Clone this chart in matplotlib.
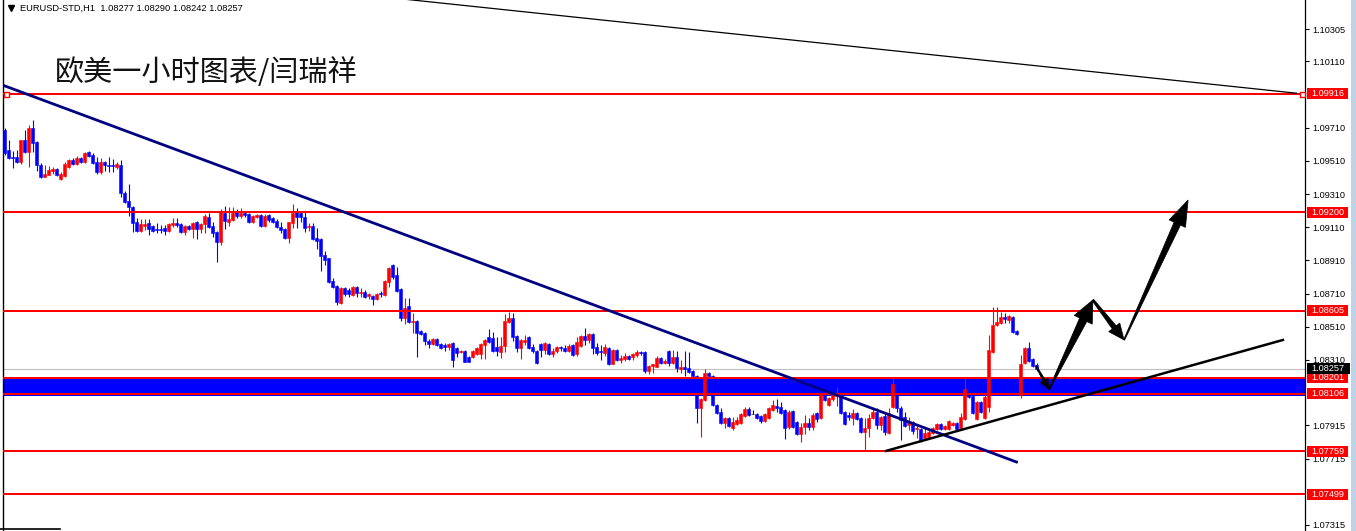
import numpy as np
import matplotlib
matplotlib.use("Agg")
import matplotlib.pyplot as plt
from matplotlib.patches import Polygon, Rectangle
from matplotlib.lines import Line2D
from matplotlib.transforms import IdentityTransform

plt.rcParams['font.family'] = ['Liberation Sans', 'DejaVu Sans']

# EURUSD H1 candles, oldest first
opens = [
    1.09696, 1.09576, 1.09533, 1.09533, 1.09503, 1.09636, 1.09563, 1.09708, 1.09624, 1.09485,
    1.09413, 1.09425, 1.09449, 1.09461, 1.09401, 1.09419, 1.09473, 1.09515, 1.09491, 1.09527,
    1.09503, 1.09563, 1.09545, 1.09503, 1.09443, 1.09503, 1.09485, 1.09485, 1.09473, 1.09485,
    1.09316, 1.09268, 1.09232, 1.09141, 1.09087, 1.09117, 1.09135, 1.09117, 1.09099, 1.09099,
    1.09105, 1.09087, 1.09123, 1.09135, 1.09129, 1.09081, 1.09117, 1.09099, 1.09141, 1.09099,
    1.09129, 1.09172, 1.09117, 1.09081, 1.09021, 1.09196, 1.09141, 1.09153, 1.09202, 1.09178,
    1.09196, 1.09190, 1.09141, 1.09172, 1.09184, 1.09117, 1.09184, 1.09166, 1.09147, 1.09111,
    1.09099, 1.09045, 1.09135, 1.09202, 1.09196, 1.09172, 1.09111, 1.09117, 1.09045, 1.09039,
    1.08942, 1.08924, 1.08786, 1.08755, 1.08653, 1.08743, 1.08731, 1.08701, 1.08749, 1.08713,
    1.08719, 1.08695, 1.08695, 1.08677, 1.08713, 1.08701, 1.08780, 1.08882, 1.08822, 1.08737,
    1.08562, 1.08635, 1.08538, 1.08544, 1.08484, 1.08472, 1.08424, 1.08406, 1.08436, 1.08406,
    1.08400, 1.08388, 1.08412, 1.08382, 1.08357, 1.08363, 1.08327, 1.08327, 1.08345, 1.08345,
    1.08400, 1.08448, 1.08442, 1.08388, 1.08357, 1.08394, 1.08538, 1.08562, 1.08454, 1.08382,
    1.08418, 1.08448, 1.08388, 1.08363, 1.08406, 1.08370, 1.08406, 1.08345, 1.08363, 1.08388,
    1.08382, 1.08363, 1.08400, 1.08345, 1.08394, 1.08454, 1.08430, 1.08466, 1.08388, 1.08363,
    1.08351, 1.08382, 1.08285, 1.08370, 1.08309, 1.08315, 1.08333, 1.08327, 1.08339, 1.08357,
    1.08357, 1.08243, 1.08273, 1.08267, 1.08321, 1.08291, 1.08363, 1.08291, 1.08327, 1.08255,
    1.08267, 1.08261, 1.08243, 1.08213, 1.08020, 1.08068, 1.08231, 1.08213, 1.08038, 1.07996,
    1.07929, 1.07959, 1.07899, 1.07923, 1.07929, 1.07972, 1.08014, 1.07984, 1.07984, 1.07972,
    1.07941, 1.07959, 1.08008, 1.08032, 1.08026, 1.08008, 1.07905, 1.08002, 1.07935, 1.07863,
    1.07905, 1.07929, 1.07905, 1.07990, 1.07959, 1.08128, 1.08038, 1.08074, 1.08092, 1.08092,
    1.07996, 1.07978, 1.07959, 1.07990, 1.07959, 1.07875, 1.07899, 1.07959, 1.07996, 1.07917,
    1.07972, 1.07869, 1.08026, 1.08098, 1.08020, 1.07966, 1.07917, 1.07935, 1.07893, 1.07893,
    1.07839, 1.07845, 1.07869, 1.07893, 1.07923, 1.07893, 1.07893, 1.07917, 1.07929, 1.07899,
    1.07953, 1.08098, 1.08092, 1.07953, 1.08056, 1.07959, 1.08026, 1.08357, 1.08520, 1.08532,
    1.08569, 1.08550, 1.08569, 1.08484, 1.08098, 1.08291, 1.08382, 1.08315, 1.08277]

closes = [
    1.09557, 1.09527, 1.09527, 1.09503, 1.09636, 1.09563, 1.09708, 1.09618, 1.09485, 1.09413,
    1.09431, 1.09455, 1.09461, 1.09425, 1.09431, 1.09491, 1.09515, 1.09491, 1.09527, 1.09503,
    1.09557, 1.09539, 1.09497, 1.09443, 1.09503, 1.09485, 1.09479, 1.09479, 1.09491, 1.09316,
    1.09262, 1.09232, 1.09135, 1.09087, 1.09129, 1.09129, 1.09099, 1.09087, 1.09093, 1.09093,
    1.09087, 1.09129, 1.09135, 1.09123, 1.09081, 1.09117, 1.09099, 1.09135, 1.09099, 1.09129,
    1.09178, 1.09111, 1.09075, 1.09021, 1.09202, 1.09147, 1.09159, 1.09196, 1.09178, 1.09196,
    1.09184, 1.09141, 1.09178, 1.09184, 1.09117, 1.09178, 1.09153, 1.09141, 1.09111, 1.09093,
    1.09045, 1.09141, 1.09196, 1.09172, 1.09172, 1.09105, 1.09117, 1.09039, 1.09027, 1.08936,
    1.08912, 1.08780, 1.08749, 1.08659, 1.08743, 1.08707, 1.08707, 1.08749, 1.08713, 1.08719,
    1.08689, 1.08707, 1.08677, 1.08707, 1.08707, 1.08786, 1.08864, 1.08810, 1.08725, 1.08562,
    1.08623, 1.08538, 1.08544, 1.08472, 1.08466, 1.08424, 1.08406, 1.08436, 1.08400, 1.08382,
    1.08388, 1.08406, 1.08309, 1.08351, 1.08363, 1.08297, 1.08297, 1.08363, 1.08382, 1.08406,
    1.08430, 1.08418, 1.08363, 1.08363, 1.08394, 1.08544, 1.08562, 1.08448, 1.08382, 1.08430,
    1.08430, 1.08382, 1.08363, 1.08291, 1.08370, 1.08412, 1.08345, 1.08363, 1.08388, 1.08382,
    1.08363, 1.08394, 1.08339, 1.08418, 1.08454, 1.08430, 1.08466, 1.08382, 1.08351, 1.08357,
    1.08388, 1.08285, 1.08370, 1.08309, 1.08321, 1.08333, 1.08315, 1.08345, 1.08357, 1.08351,
    1.08243, 1.08273, 1.08285, 1.08321, 1.08291, 1.08303, 1.08291, 1.08327, 1.08261, 1.08267,
    1.08255, 1.08237, 1.08213, 1.08020, 1.08074, 1.08231, 1.08213, 1.08038, 1.07990, 1.07929,
    1.07959, 1.07911, 1.07935, 1.07947, 1.07984, 1.08014, 1.07978, 1.07984, 1.07959, 1.07941,
    1.07984, 1.08020, 1.08038, 1.08020, 1.07990, 1.07899, 1.07996, 1.07905, 1.07863, 1.07905,
    1.07929, 1.07905, 1.07978, 1.07953, 1.08104, 1.08068, 1.08080, 1.08104, 1.08110, 1.07990,
    1.07923, 1.07966, 1.07990, 1.07953, 1.07875, 1.07899, 1.07959, 1.07996, 1.07917, 1.07966,
    1.07875, 1.07990, 1.08164, 1.08020, 1.07947, 1.07911, 1.07935, 1.07881, 1.07899, 1.07827,
    1.07869, 1.07875, 1.07899, 1.07923, 1.07893, 1.07911, 1.07941, 1.07929, 1.07893, 1.07966,
    1.08134, 1.08086, 1.07990, 1.08056, 1.07996, 1.08086, 1.08370, 1.08520, 1.08538, 1.08569,
    1.08556, 1.08575, 1.08478, 1.08466, 1.08285, 1.08382, 1.08303, 1.08273, 1.08257]

highs = [
    1.09708, 1.09636, 1.09569, 1.09576, 1.09636, 1.09696, 1.09726, 1.09756, 1.09630, 1.09497,
    1.09485, 1.09479, 1.09473, 1.09467, 1.09443, 1.09503, 1.09521, 1.09527, 1.09539, 1.09533,
    1.09563, 1.09569, 1.09557, 1.09533, 1.09527, 1.09509, 1.09533, 1.09521, 1.09503, 1.09515,
    1.09328, 1.09370, 1.09238, 1.09166, 1.09159, 1.09159, 1.09159, 1.09123, 1.09135, 1.09123,
    1.09123, 1.09135, 1.09166, 1.09166, 1.09135, 1.09123, 1.09123, 1.09141, 1.09147, 1.09135,
    1.09190, 1.09196, 1.09141, 1.09087, 1.09220, 1.09238, 1.09232, 1.09232, 1.09220, 1.09226,
    1.09202, 1.09196, 1.09184, 1.09190, 1.09190, 1.09190, 1.09190, 1.09172, 1.09159, 1.09141,
    1.09105, 1.09141, 1.09250, 1.09226, 1.09202, 1.09202, 1.09135, 1.09135, 1.09105, 1.09045,
    1.08967, 1.08924, 1.08804, 1.08761, 1.08749, 1.08749, 1.08743, 1.08755, 1.08755, 1.08743,
    1.08731, 1.08713, 1.08701, 1.08713, 1.08725, 1.08792, 1.08870, 1.08888, 1.08870, 1.08743,
    1.08683, 1.08683, 1.08593, 1.08550, 1.08490, 1.08478, 1.08436, 1.08442, 1.08442, 1.08412,
    1.08412, 1.08412, 1.08418, 1.08388, 1.08370, 1.08370, 1.08333, 1.08370, 1.08388, 1.08412,
    1.08436, 1.08496, 1.08478, 1.08448, 1.08448, 1.08587, 1.08599, 1.08593, 1.08460, 1.08436,
    1.08460, 1.08454, 1.08406, 1.08370, 1.08412, 1.08418, 1.08412, 1.08382, 1.08394, 1.08394,
    1.08400, 1.08406, 1.08406, 1.08448, 1.08460, 1.08502, 1.08472, 1.08472, 1.08412, 1.08400,
    1.08406, 1.08388, 1.08376, 1.08376, 1.08339, 1.08351, 1.08339, 1.08351, 1.08370, 1.08363,
    1.08363, 1.08279, 1.08285, 1.08333, 1.08327, 1.08315, 1.08370, 1.08370, 1.08363, 1.08309,
    1.08363, 1.08357, 1.08249, 1.08219, 1.08080, 1.08255, 1.08237, 1.08219, 1.08044, 1.08020,
    1.07966, 1.07966, 1.07966, 1.07966, 1.07990, 1.08026, 1.08026, 1.08008, 1.07990, 1.07978,
    1.07990, 1.08026, 1.08068, 1.08074, 1.08056, 1.08014, 1.08008, 1.08008, 1.07941, 1.07929,
    1.07978, 1.07959, 1.07990, 1.07996, 1.08110, 1.08152, 1.08086, 1.08110, 1.08146, 1.08098,
    1.08002, 1.07996, 1.08014, 1.07996, 1.07966, 1.07959, 1.07984, 1.08020, 1.08020, 1.07972,
    1.07996, 1.08020, 1.08207, 1.08104, 1.08032, 1.07996, 1.07966, 1.07941, 1.07917, 1.07899,
    1.07899, 1.07887, 1.07905, 1.07929, 1.07929, 1.07917, 1.07947, 1.07935, 1.07935, 1.07990,
    1.08201, 1.08104, 1.08098, 1.08062, 1.08062, 1.08110, 1.08460, 1.08629, 1.08629, 1.08599,
    1.08593, 1.08581, 1.08575, 1.08490, 1.08339, 1.08388, 1.08418, 1.08321, 1.08290]

lows = [
    1.09545, 1.09521, 1.09467, 1.09497, 1.09491, 1.09557, 1.09473, 1.09563, 1.09449, 1.09407,
    1.09413, 1.09425, 1.09431, 1.09419, 1.09395, 1.09413, 1.09467, 1.09485, 1.09485, 1.09497,
    1.09497, 1.09533, 1.09491, 1.09431, 1.09431, 1.09449, 1.09443, 1.09443, 1.09461, 1.09292,
    1.09256, 1.09178, 1.09081, 1.09081, 1.09081, 1.09093, 1.09063, 1.09081, 1.09075, 1.09075,
    1.09063, 1.09081, 1.09111, 1.09111, 1.09075, 1.09063, 1.09093, 1.09045, 1.09039, 1.09075,
    1.09075, 1.09105, 1.09051, 1.08900, 1.09003, 1.09099, 1.09117, 1.09147, 1.09166, 1.09166,
    1.09172, 1.09135, 1.09135, 1.09166, 1.09111, 1.09111, 1.09141, 1.09135, 1.09105, 1.09075,
    1.09039, 1.09015, 1.09105, 1.09105, 1.09141, 1.09081, 1.09087, 1.09033, 1.08979, 1.08846,
    1.08882, 1.08774, 1.08743, 1.08641, 1.08647, 1.08695, 1.08689, 1.08695, 1.08689, 1.08689,
    1.08683, 1.08677, 1.08641, 1.08671, 1.08689, 1.08695, 1.08749, 1.08798, 1.08719, 1.08544,
    1.08526, 1.08532, 1.08472, 1.08327, 1.08460, 1.08400, 1.08382, 1.08400, 1.08394, 1.08376,
    1.08363, 1.08370, 1.08267, 1.08327, 1.08351, 1.08297, 1.08297, 1.08321, 1.08339, 1.08315,
    1.08315, 1.08412, 1.08357, 1.08333, 1.08321, 1.08357, 1.08532, 1.08424, 1.08357, 1.08315,
    1.08400, 1.08376, 1.08351, 1.08285, 1.08327, 1.08345, 1.08339, 1.08327, 1.08351, 1.08363,
    1.08357, 1.08357, 1.08333, 1.08333, 1.08388, 1.08400, 1.08412, 1.08345, 1.08339, 1.08309,
    1.08333, 1.08279, 1.08285, 1.08303, 1.08291, 1.08303, 1.08309, 1.08309, 1.08327, 1.08339,
    1.08231, 1.08225, 1.08231, 1.08267, 1.08285, 1.08285, 1.08273, 1.08285, 1.08237, 1.08231,
    1.08213, 1.08231, 1.08213, 1.07929, 1.07845, 1.08062, 1.08207, 1.08032, 1.07984, 1.07923,
    1.07899, 1.07905, 1.07887, 1.07917, 1.07923, 1.07966, 1.07972, 1.07984, 1.07953, 1.07929,
    1.07935, 1.07953, 1.08002, 1.07996, 1.07984, 1.07833, 1.07893, 1.07899, 1.07857, 1.07815,
    1.07863, 1.07887, 1.07887, 1.07935, 1.07953, 1.08062, 1.08032, 1.08062, 1.08032, 1.07984,
    1.07917, 1.07947, 1.07917, 1.07947, 1.07869, 1.07767, 1.07845, 1.07953, 1.07893, 1.07887,
    1.07857, 1.07863, 1.08020, 1.07996, 1.07827, 1.07905, 1.07887, 1.07863, 1.07839, 1.07815,
    1.07827, 1.07839, 1.07863, 1.07887, 1.07887, 1.07887, 1.07887, 1.07911, 1.07887, 1.07893,
    1.07947, 1.08080, 1.07984, 1.07947, 1.07990, 1.07953, 1.07996, 1.08351, 1.08514, 1.08526,
    1.08532, 1.08532, 1.08472, 1.08460, 1.08080, 1.08285, 1.08297, 1.08267, 1.08242]

# horizontal levels, zone and current bid
levels = [1.09916, 1.09200, 1.08605, 1.08201, 1.08106, 1.07759, 1.07499]
zone_top = 1.08201
zone_bottom = 1.08094
bid = 1.08257
axis_ticks = [1.10305, 1.10110, 1.09710, 1.09510, 1.09310, 1.09110, 1.08910,
              1.08710, 1.08510, 1.08310, 1.07915, 1.07715, 1.07315]

# drawn objects, (bar index, price)
down_trend = ([-0.5, 253.0], [1.09967, 1.07694])
up_trend = ([220.4, 319.6], [1.07761, 1.08430])
top_line = ([100.0, 323.0], [1.10485, 1.09918])
arrows = [((257.9, 1.08273), (261.1, 1.08134)),
          ((261.1, 1.08128), (272.1, 1.08671)),
          ((272.1, 1.08671), (279.9, 1.08430)),
          ((279.9, 1.08430), (295.9, 1.09274))]
header = "EURUSD-STD,H1  1.08277 1.08290 1.08242 1.08257"
title = "欧美一小时图表/闫瑞祥"

W, H = 1356, 531
fig = plt.figure(figsize=(W / 100, H / 100), dpi=100)
ax = fig.add_axes([3 / W, 0, 1302 / W, 1])
ax.set_xlim(-0.375, 325.125)
ax.set_ylim(1.07278, 1.10480)

o = np.array(opens)
c = np.array(closes)
hi = np.array(highs)
lo = np.array(lows)
x = np.arange(len(c))
col = np.where(c > o, '#ff0000', np.where(c < o, '#0000ff', '#000000'))

# blue zone (background)
ax.axhspan(zone_bottom, zone_top, color='#0000ff', lw=0, zorder=1)
ax.axhline(bid, color='#c0c0c0', lw=0.8, zorder=1.5)

ax.vlines(x, lo, hi, colors=col, linewidth=0.8, zorder=3)
ax.bar(x, np.abs(c - o), bottom=np.minimum(o, c), width=0.72, color=col,
       edgecolor=col, linewidth=0.4, zorder=3)

for lv in levels:
    ax.axhline(lv, color='#ff0000', lw=1.45, zorder=4)
ax.plot([0.25, 324.4], [levels[0], levels[0]], 's', ms=3.6, mfc='white',
        mec='#ff0000', mew=1.0, zorder=6, clip_on=False)

ax.plot(*down_trend, color='#000080', lw=2.0, zorder=5)
ax.plot(*up_trend, color='black', lw=1.8, zorder=5)
ax.plot(*top_line, color='black', lw=0.9, zorder=5)


def draw_arrow(p0, p1, tail, shaft, head_w, head_len):
    a = ax.transData.transform(p0)
    b = ax.transData.transform(p1)
    d = (b - a) / np.hypot(*(b - a))
    n = np.array([-d[1], d[0]])
    base = b - d * head_len
    pts = [a + n * tail / 2, base + n * shaft / 2, base + n * head_w / 2, b,
           base - n * head_w / 2, base - n * shaft / 2, a - n * tail / 2]
    ax.add_patch(Polygon(pts, closed=True, transform=IdentityTransform(),
                         fc='black', ec='black', lw=0.5, zorder=7))


draw_arrow(*arrows[0], 1.0, 2.5, 9, 10)
draw_arrow(*arrows[1], 1.0, 8, 20, 22)
draw_arrow(*arrows[2], 2.0, 5, 14, 16)
draw_arrow(*arrows[3], 1.0, 7, 18, 26)

# price axis on the right
for s in ['top', 'bottom']:
    ax.spines[s].set_visible(False)
ax.spines['left'].set_linewidth(1.0)
ax.spines['right'].set_linewidth(0.9)
ax.set_xticks([])
ax.yaxis.tick_right()
ax.set_yticks(axis_ticks)
ax.set_yticklabels([f'{t:.5f}' for t in axis_ticks])
ax.tick_params(axis='y', length=3, width=0.8, pad=2.2, labelsize=6.6, colors='black')

ytr = ax.get_yaxis_transform()
half = 0.00033
for lv in levels:
    ax.add_patch(Rectangle((1.0015, lv - half), 0.0318, 2 * half, transform=ytr,
                           fc='#ff0000', ec='none', clip_on=False, zorder=8))
    ax.text(1.0046, lv, f'{lv:.5f}', transform=ytr, color='white', fontsize=6.6,
            va='center', ha='left', clip_on=False, zorder=9)
ax.add_patch(Rectangle((1.0015, bid - half), 0.0333, 2 * half, transform=ytr,
                       fc='black', ec='none', clip_on=False, zorder=8))
ax.text(1.0046, bid, f'{bid:.5f}', transform=ytr, color='white', fontsize=6.6,
        va='center', ha='left', clip_on=False, zorder=9)

# window decorations
fig.patches.append(Rectangle((1351 / W, 0), 5 / W, 1, transform=fig.transFigure,
                             fc='#c0d2e8', ec='none'))
fig.lines.append(Line2D([0, 60 / W], [2 / H, 2 / H], transform=fig.transFigure,
                        color='black', lw=1.2))
fig.lines.append(Line2D([10.5 / W], [1 - 8 / H], transform=fig.transFigure,
                        marker='v', ms=4, color='black', ls='none'))

fig.text(20 / W, 1 - 8 / H, header, fontsize=6.7, va='center', ha='left')
fig.text(55 / W, 1 - 73 / H, title, fontsize=21, va='center', ha='left',
         family=['Noto Sans CJK SC', 'DejaVu Sans'], color='#111111')

fig.savefig('out.png', dpi=100, facecolor='white')
